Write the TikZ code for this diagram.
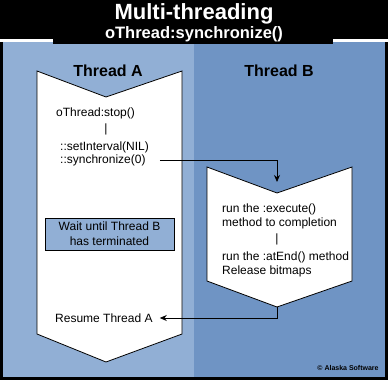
\documentclass[tikz,border=0pt]{standalone}
\usepackage{fontspec}
\setmainfont{Liberation Sans}
\usepackage{xcolor}
\usepackage{tikz}
\usetikzlibrary{arrows.meta,positioning}

\definecolor{paneA}{RGB}{145,175,213}
\definecolor{paneB}{RGB}{111,148,196}

\begin{document}
\begin{tikzpicture}[
    x=1pt, y=-1pt,
    chevron/.style={draw=black, fill=white, line width=0.8pt},
    code/.style={font=\fontsize{12}{15}\selectfont, inner sep=0pt, anchor=west},
    head/.style={font=\bfseries\fontsize{16}{18}\selectfont, inner sep=0pt},
    waitbox/.style={draw, fill=paneA, line width=0.8pt, minimum width=129pt, minimum height=32pt, align=center, inner sep=0pt, font=\fontsize{12}{15}\selectfont},
    arrow/.style={-{Stealth[length=7pt,width=6pt]}, line width=0.8pt}
]
% Background and panels
\fill[black] (0,0) rectangle (388,380);
\useasboundingbox (0,0) rectangle (388,380);
\fill[white] (0,38.5) rectangle (388,41.5);
\fill[paneA] (3,42) rectangle (194,377);
\fill[paneB] (194,42) rectangle (385,377);
\fill[black] (53,0) rectangle (333,44);

% Title
\node[font=\bfseries\fontsize{22}{24}\selectfont, text=white, inner sep=0pt] (title) at (194,14) {Multi-threading};
\node[font=\bfseries\fontsize{16.5}{18}\selectfont, text=white, inner sep=0pt] (subtitle) at (194,34) {oThread:synchronize()};

% Thread headings
\node[head] (headA) at (108,71) {Thread A};
\node[head] (headB) at (279,71) {Thread B};

% Thread shapes
\draw[chevron] (37,71) -- (106,97) -- (182,71) -- (182,334) -- (106,362) -- (37,334) -- cycle;
\draw[chevron] (207,167) -- (277,193) -- (352,167) -- (352,281) -- (277,307) -- (207,281) -- cycle;

% Thread A
\node[code] (stop) at (56,113) {oThread:stop()};
\node[code, anchor=center] (barA) at (106,129) {|};
\node[code] (setint) at (60,147) {::setInterval(NIL)};
\node[code] (sync) at (60,160) {::synchronize(0)};
\node[waitbox] (wait) at (109.5,234) {Wait until Thread B\\has terminated};
\node[code] (resume) at (55,318) {Resume Thread A};

% Thread B
\node[code] (exec) at (222,209) {run the :execute()};
\node[code] (compl) at (222,223) {method to completion};
\node[code, anchor=center] (barB) at (277,239) {|};
\node[code] (atend) at (222,257) {run the :atEnd() method};
\node[code] (release) at (222,271) {Release bitmaps};

\coordinate (bin) at (277,182);
\coordinate (bout) at (277,307);

% Arrows
\draw[arrow, shorten <=14pt] (sync.east) -| (bin);
\draw[arrow, shorten >=7pt] (bout) |- (resume.east);

% Copyright
\node[font=\bfseries\fontsize{7}{8}\selectfont, inner sep=0pt] (copy) at (348,368) {\textcopyright{} Alaska Software};

\end{tikzpicture}
\end{document}
